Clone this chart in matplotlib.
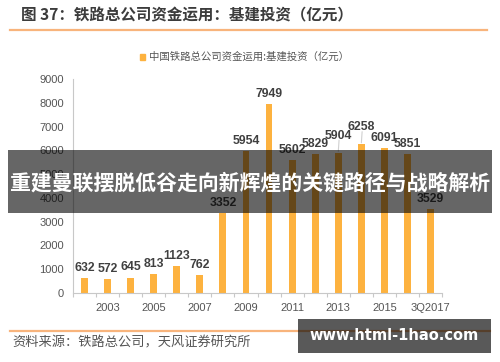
import matplotlib
matplotlib.use("Agg")
import matplotlib.pyplot as plt
from matplotlib.patches import Rectangle
from matplotlib.lines import Line2D

categories = ["2002", "2003", "2004", "2005", "2006", "2007", "2008", "2009",
              "2010", "2011", "2012", "2013", "2014", "2015", "2016", "3Q2017"]
values = [632, 572, 645, 813, 1123, 762, 3352, 5954,
          7949, 5602, 5829, 5904, 6258, 6091, 5851, 3529]
shown_labels = ["2003", "2005", "2007", "2009", "2011", "2013", "2015", "3Q2017"]
yticks = [0, 1000, 2000, 3000, 4000, 5000, 6000, 7000, 8000, 9000]

title = "图 37：铁路总公司资金运用：基建投资（亿元）"
legend_label = "中国铁路总公司资金运用:基建投资（亿元）"
source = "资料来源：铁路总公司，天风证券研究所"
banner = "重建曼联摆脱低谷走向新辉煌的关键路径与战略解析"
watermark = "www.html-1hao.com"

CJK = ["Noto Sans CJK SC", "DejaVu Sans"]
NUM = ["Liberation Sans", "DejaVu Sans"]
BAR = "#FDB23F"
GRAY = "#555555"
ORANGE_LINE = "#F8B47C"

W, H = 500, 362
fig = plt.figure(figsize=(W / 100, H / 100), dpi=100)
fig.patch.set_facecolor("white")

def fx(px):
    return px / W

def fy(py):
    return 1 - py / H

ax = fig.add_axes([fx(73), fy(293), fx(442) - fx(73), fy(79) - fy(293)])
x = list(range(len(categories)))
ax.bar(x, values, width=0.3, color=BAR, zorder=2)
ax.set_xlim(-0.5, len(categories) - 0.5)
ax.set_ylim(0, 9000)

for s in ["top", "right"]:
    ax.spines[s].set_visible(False)
ax.spines["left"].set_color("#c8c8c8")
ax.spines["bottom"].set_color("#c8c8c8")
ax.spines["left"].set_linewidth(0.8)
ax.spines["bottom"].set_linewidth(0.8)

ax.set_yticks(yticks)
ax.set_yticklabels([str(v) for v in yticks], fontfamily=NUM, fontsize=8, color=GRAY)
ax.tick_params(axis="y", length=0, pad=6.5)

major_pos = [categories.index(c) for c in shown_labels]
ax.set_xticks(major_pos)
ax.set_xticklabels(shown_labels, fontfamily=NUM, fontsize=8, color=GRAY)
ax.set_xticks([i - 0.5 for i in range(len(categories) + 1)], minor=True)
ax.tick_params(axis="x", which="major", length=0, pad=7.5)
ax.tick_params(axis="x", which="minor", length=3, color="#c8c8c8", width=0.8)

lifted = {"2013": 5, "2014": 5}
for xi, (cat, v) in enumerate(zip(categories, values)):
    lift = lifted.get(cat, 0)
    ax.annotate(str(v), (xi, v), xytext=(0, 3 + lift), textcoords="offset points",
                ha="center", va="bottom", fontsize=8.8, fontweight="bold",
                color="#404040", fontfamily=NUM, zorder=3)
    if lift:
        ax.annotate("", (xi, v), xytext=(0.6, 4 + lift), textcoords="offset points",
                    arrowprops=dict(arrowstyle="-", color="#d0d0d0", lw=0.8,
                                    shrinkA=0, shrinkB=1))

# Title and decorative lines
fig.text(fx(21), fy(15), title, fontfamily=CJK, fontsize=11.2, fontweight="bold",
         color="#3c3c3c", ha="left", va="center")
fig.add_artist(Line2D([fx(10), fx(487)], [fy(30), fy(30)], color=ORANGE_LINE, lw=1.6))
fig.add_artist(Line2D([fx(10), fx(490)], [fy(331), fy(331)], color=ORANGE_LINE, lw=1.6))

# Legend
fig.add_artist(Rectangle((fx(140), fy(59.5)), 5 / W, 5 / H, color=BAR, transform=fig.transFigure))
fig.text(fx(149), fy(57), legend_label, fontfamily=CJK, fontsize=7.5, color=GRAY,
         ha="left", va="center")

# Source
fig.text(fx(12), fy(343), source, fontfamily=CJK, fontsize=9.5, color=GRAY,
         ha="left", va="center")

# Banner overlay
fig.add_artist(Rectangle((fx(8), fy(213)), (492 - 8) / W, (213 - 150) / H,
                         facecolor="black", alpha=0.6, edgecolor="none",
                         transform=fig.transFigure, zorder=10))
fig.text(fx(250), fy(183), banner, fontfamily=CJK, fontsize=15, fontweight="bold",
         color="white", ha="center", va="center", zorder=11)

# Watermark box
fig.add_artist(Rectangle((fx(298), fy(353)), (491 - 298) / W, (353 - 319) / H,
                         facecolor="black", alpha=0.65, edgecolor="none",
                         transform=fig.transFigure, zorder=10))
fig.text(fx(394), fy(336), watermark, fontfamily="DejaVu Sans", fontsize=10.5,
         fontweight="bold", color="white", ha="center", va="center", zorder=11)

fig.savefig("out.png", dpi=100)
